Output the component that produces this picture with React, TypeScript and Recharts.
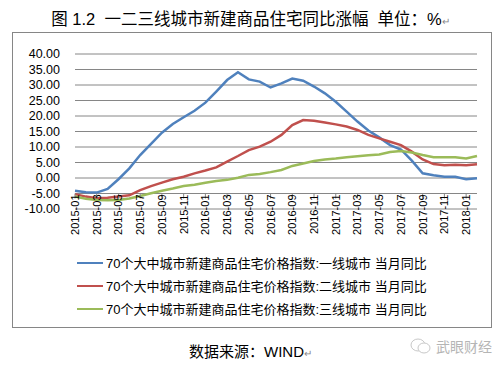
import React from "react"
import { ComposedChart, Line, XAxis, YAxis, CartesianGrid, ReferenceLine, Legend } from "recharts"

const months = [
  "2015-01", "2015-02", "2015-03", "2015-04", "2015-05", "2015-06", "2015-07", "2015-08", "2015-09", "2015-10", "2015-11", "2015-12",
  "2016-01", "2016-02", "2016-03", "2016-04", "2016-05", "2016-06", "2016-07", "2016-08", "2016-09", "2016-10", "2016-11", "2016-12",
  "2017-01", "2017-02", "2017-03", "2017-04", "2017-05", "2017-06", "2017-07", "2017-08", "2017-09", "2017-10", "2017-11", "2017-12",
  "2018-01", "2018-02",
]

const tier1 = [
  -4.1, -4.6, -4.7, -3.5, -0.4, 3.1, 7.4, 11.0, 14.6, 17.4, 19.6, 21.7,
  24.3, 27.9, 31.6, 34.1, 31.8, 31.1, 29.2, 30.5, 32.1, 31.4, 29.5, 27.3,
  24.6, 21.4, 18.2, 15.3, 13.1, 10.6, 9.2, 5.6, 1.5, 0.9, 0.4, 0.4,
  -0.4, -0.1,
]

const tier2 = [
  -5.2, -6.0, -6.5, -6.4, -6.0, -5.6, -3.9, -2.6, -1.5, -0.4, 0.4, 1.5,
  2.4, 3.4, 5.3, 7.1, 9.0, 10.1, 11.7, 13.9, 17.1, 18.7, 18.5, 17.9,
  17.3, 16.6, 15.5, 13.9, 12.8, 11.7, 10.6, 8.5, 6.0, 4.5, 4.1, 4.3,
  4.1, 4.4,
]

const tier3 = [
  -6.0, -6.7, -7.1, -7.2, -7.1, -6.6, -5.8, -4.9, -4.1, -3.4, -2.6, -2.2,
  -1.5, -1.0, -0.6, 0.1, 1.0, 1.3, 1.9, 2.6, 3.9, 4.7, 5.5, 6.0,
  6.3, 6.7, 7.0, 7.3, 7.6, 8.4, 8.7, 8.2, 7.4, 6.7, 6.7, 6.7,
  6.3, 7.1,
]

const yTicks = [-10, -5, 0, 5, 10, 15, 20, 25, 30, 35, 40]

const seriesNames = [
  "70个大中城市新建商品住宅价格指数:一线城市 当月同比",
  "70个大中城市新建商品住宅价格指数:二线城市 当月同比",
  "70个大中城市新建商品住宅价格指数:三线城市 当月同比",
]

const data = months.map((m, i) => ({ month: m, t1: tier1[i], t2: tier2[i], t3: tier3[i] }))

const FONT = '"Liberation Sans", Arial, "Noto Sans CJK SC", sans-serif'
const GRID = "#868686"
// -5 line position inside the chart (plot top 21, height 155)
const AXIS_Y = 21 + 155 * 0.9

const MonthTick = ({ x, payload }: any) => (
  <g>
    <line x1={x} x2={x} y1={AXIS_Y} y2={AXIS_Y + 5} stroke={GRID} />
    <text
      x={0}
      y={0}
      transform={`translate(${x},${AXIS_Y + 1}) rotate(-90)`}
      textAnchor="end"
      dy={4}
      fontSize={11}
      fontFamily={FONT}
      fill="#000"
    >
      {payload.value}
    </text>
  </g>
)

const renderLegend = ({ payload }: any) => (
  <div style={{ fontFamily: FONT, fontSize: 13, color: "#000" }}>
    {payload.map((p: any) => (
      <div key={p.value} style={{ display: "flex", alignItems: "center", height: 23, whiteSpace: "nowrap" }}>
        <span style={{ display: "inline-block", width: 26, height: 2, background: p.color, marginRight: 3 }} />
        <span>{p.value}</span>
      </div>
    ))}
  </div>
)

export default function App() {
  return (
    <div style={{ position: "absolute", left: 0, top: 0, width: 501, height: 366, background: "#fff", fontFamily: FONT }}>
      <div style={{ position: "absolute", left: 0, top: 6, width: 501, textAlign: "center", fontSize: 16.5, color: "#000", whiteSpace: "pre" }}>
        图 1.2  一二三线城市新建商品住宅同比涨幅  单位：%<span style={{ fontSize: 10, color: "#888" }}>↵</span>
      </div>
      <div style={{ position: "absolute", left: 12, top: 32, width: 480, height: 296, border: `1px solid ${GRID}`, boxSizing: "border-box" }}>
        <ComposedChart width={478} height={294} data={data} margin={{ top: 21, right: 14, bottom: 9, left: 0 }}>
          <CartesianGrid vertical={false} stroke={GRID} strokeWidth={1} />
          <XAxis
            dataKey="month"
            interval={1}
            tick={<MonthTick />}
            tickLine={false}
            axisLine={false}
            height={40}
            tickSize={0}
            tickMargin={0}
          />
          <YAxis
            domain={[-10, 40]}
            ticks={yTicks}
            width={62}
            tickLine={false}
            axisLine={false}
            tickSize={0}
            tickMargin={15}
            tickFormatter={(v: number) => v.toFixed(2)}
            tick={{ fontSize: 12.5, fontFamily: FONT, fill: "#000" }}
            interval={0}
          />
          <ReferenceLine y={-5} stroke={GRID} />
          <Line type="linear" dataKey="t1" name={seriesNames[0]} stroke="#4F81BD" strokeWidth={2.5} dot={false} isAnimationActive={false} />
          <Line type="linear" dataKey="t2" name={seriesNames[1]} stroke="#C0504D" strokeWidth={2.5} dot={false} isAnimationActive={false} />
          <Line type="linear" dataKey="t3" name={seriesNames[2]} stroke="#9BBB59" strokeWidth={2.5} dot={false} isAnimationActive={false} />
          <Legend content={renderLegend} itemSorter="dataKey" wrapperStyle={{ left: 64, top: 218, width: 380, height: 69 }} />
        </ComposedChart>
      </div>
      <div style={{ position: "absolute", left: 0, top: 340, width: 501, textAlign: "center", fontSize: 15, color: "#000" }}>
        数据来源：WIND<span style={{ fontSize: 10, color: "#888" }}>↵</span>
      </div>
      <div style={{ position: "absolute", left: 410, top: 336, display: "flex", alignItems: "center", color: "#b5b5b5", fontSize: 14 }}>
        <svg width={22} height={18}>
          <ellipse cx={8} cy={8} rx={7} ry={6} fill="none" stroke="#c8c8c8" />
          <ellipse cx={14} cy={11} rx={6} ry={5} fill="#fff" stroke="#c8c8c8" />
        </svg>
        <span style={{ marginLeft: 4 }}>武眼财经</span>
      </div>
    </div>
  )
}
